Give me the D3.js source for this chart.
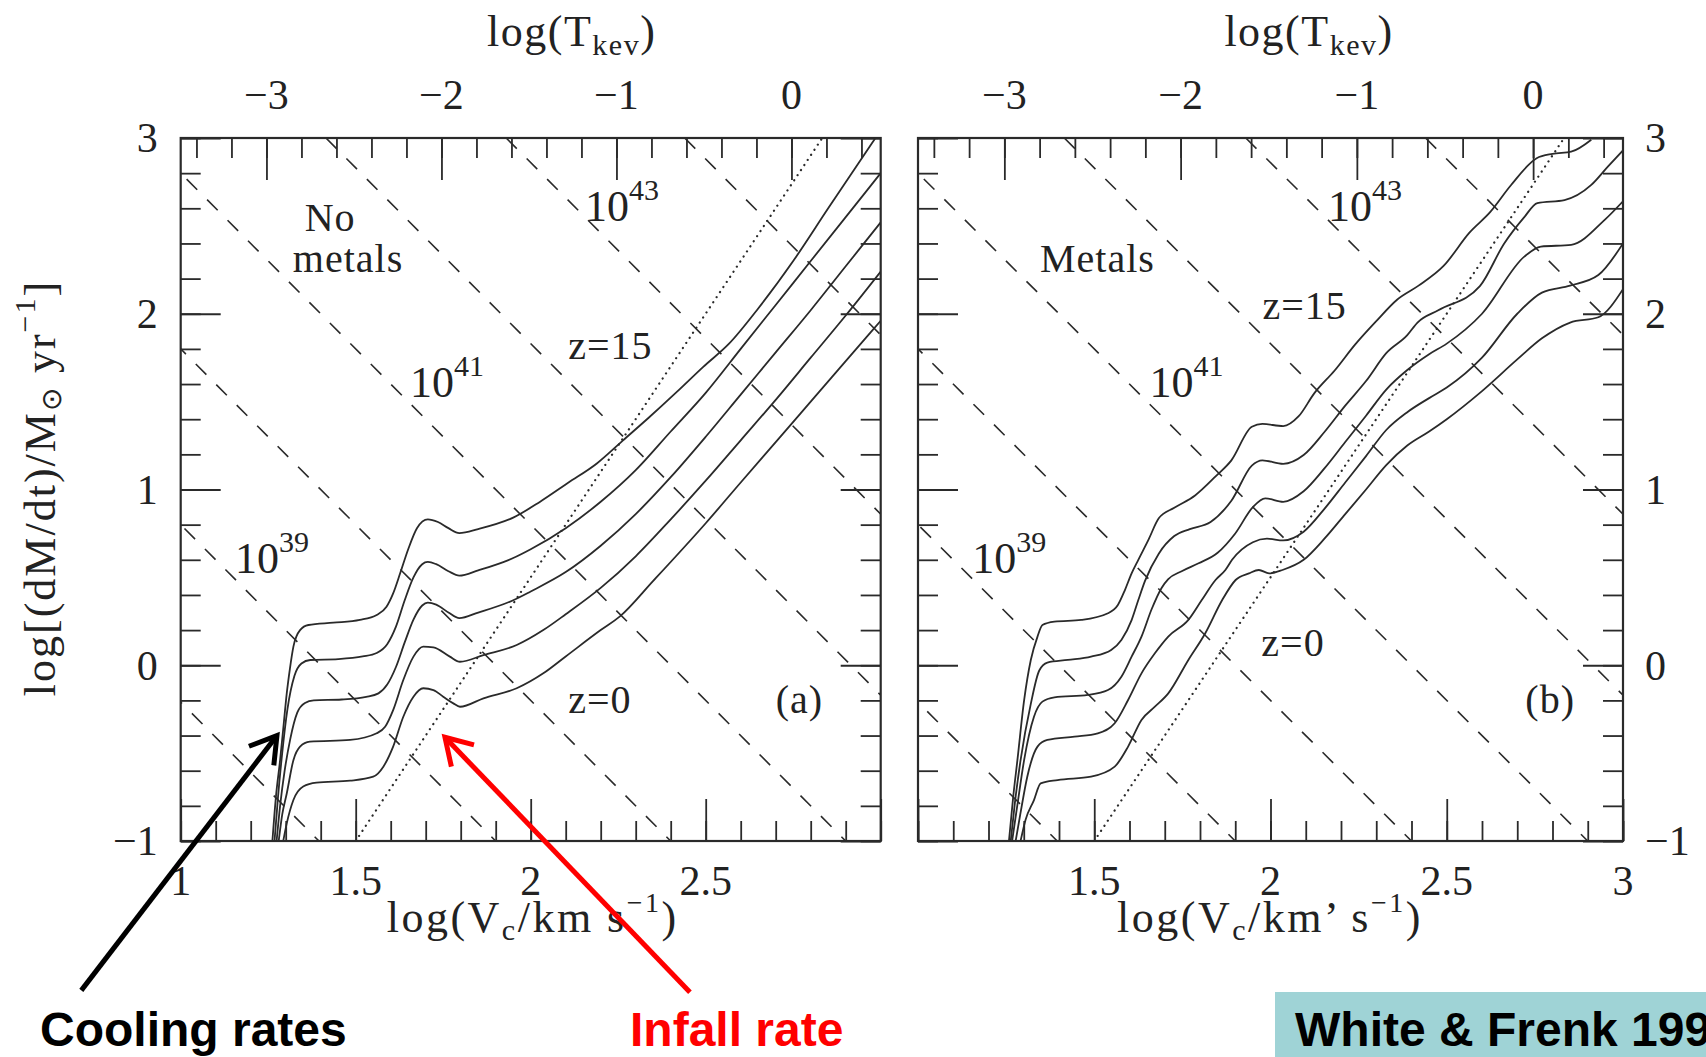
<!DOCTYPE html>
<html>
<head>
<meta charset="utf-8">
<style>
  body { margin: 0; background: #fff; }
  svg { display: block; }
  .serif { font-family: "Liberation Serif", "Times New Roman", serif; fill: #222; }
  .note { font-family: "Liberation Sans", Arial, sans-serif; font-weight: bold; }
</style>
</head>
<body>
<div id="chart"></div>
<script src="https://d3js.org/d3.v7.min.js"></script>
<script>
// ---- data ----
var xTickLabelsA = [1, 1.5, 2, 2.5];
var xTickLabelsB = [1.5, 2, 2.5, 3];
var yTickLabels = [-1, 0, 1, 2, 3];
var tTickLabels = [-3, -2, -1, 0];
var tkevOffset = -5.49;              // log T = 2 log Vc + offset

// dashed lines of constant luminosity, log(dM/dt) = c - 2 log Vc
var lumIntercepts = [1.79, 2.8, 3.8, 4.8, 5.83, 6.86, 7.88];
// dotted infall rate
var infallX = [1.5, 2.833];
var infallY = [-1, 3];

// (a) no metals, top curve (z=15) to bottom curve (z=0)
var noMetals1 = [[1.262,-1],[1.272,-0.75],[1.284,-0.54],[1.295,-0.32],[1.303,-0.16],[1.312,-0.02],[1.322,0.106],[1.341,0.2],[1.365,0.229],[1.436,0.242],[1.512,0.258],[1.56,0.286],[1.588,0.333],[1.607,0.409],[1.627,0.523],[1.65,0.66],[1.675,0.78],[1.706,0.83],[1.735,0.815],[1.765,0.78],[1.796,0.752],[1.85,0.775],[1.95,0.84],[2.025,0.928],[2.107,1.038],[2.189,1.148],[2.263,1.278],[2.337,1.408],[2.419,1.558],[2.493,1.698],[2.566,1.828],[2.65,2.03],[2.75,2.3],[2.85,2.6],[2.985,3.0]];
var noMetals2 = [[1.268,-1],[1.278,-0.75],[1.29,-0.5],[1.305,-0.25],[1.325,-0.06],[1.345,0.01],[1.37,0.03],[1.45,0.035],[1.52,0.05],[1.56,0.07],[1.59,0.12],[1.615,0.22],[1.64,0.37],[1.665,0.5],[1.69,0.575],[1.706,0.588],[1.73,0.575],[1.765,0.535],[1.796,0.51],[1.85,0.54],[1.95,0.61],[2.0,0.66],[2.1,0.78],[2.2,0.93],[2.3,1.11],[2.4,1.33],[2.5,1.55],[2.6,1.8],[2.7,2.05],[2.8,2.3],[2.9,2.55],[3.0,2.8]];
var noMetals3 = [[1.274,-1],[1.284,-0.8],[1.297,-0.6],[1.313,-0.42],[1.333,-0.27],[1.355,-0.215],[1.38,-0.2],[1.46,-0.195],[1.53,-0.18],[1.565,-0.16],[1.59,-0.11],[1.615,-0.01],[1.64,0.13],[1.665,0.26],[1.69,0.34],[1.706,0.356],[1.73,0.345],[1.765,0.3],[1.796,0.268],[1.85,0.3],[1.95,0.37],[2.0,0.42],[2.1,0.53],[2.2,0.68],[2.3,0.86],[2.4,1.07],[2.5,1.3],[2.6,1.54],[2.7,1.78],[2.8,2.02],[2.9,2.27],[3.0,2.52]];
var noMetals4 = [[1.28,-1],[1.29,-0.85],[1.303,-0.73],[1.322,-0.54],[1.341,-0.463],[1.369,-0.435],[1.484,-0.425],[1.56,-0.387],[1.584,-0.35],[1.607,-0.255],[1.636,-0.084],[1.665,0.049],[1.693,0.106],[1.722,0.102],[1.769,0.049],[1.798,0.02],[1.865,0.058],[1.96,0.115],[2.036,0.2],[2.1,0.29],[2.2,0.44],[2.3,0.62],[2.4,0.83],[2.5,1.05],[2.6,1.28],[2.7,1.51],[2.8,1.75],[2.9,1.99],[3.0,2.24]];
var noMetals5 = [[1.293,-1],[1.303,-0.9],[1.322,-0.767],[1.35,-0.69],[1.388,-0.668],[1.484,-0.657],[1.55,-0.634],[1.579,-0.577],[1.607,-0.463],[1.636,-0.293],[1.665,-0.179],[1.693,-0.131],[1.722,-0.141],[1.75,-0.179],[1.779,-0.217],[1.798,-0.236],[1.865,-0.188],[1.96,-0.131],[2.036,-0.046],[2.1,0.05],[2.2,0.2],[2.255,0.278],[2.35,0.48],[2.5,0.808],[2.6,1.04],[2.7,1.27],[2.8,1.5],[2.9,1.73],[3.0,1.96]];

// (b) metals
var metals1 = [[1.258,-1],[1.27,-0.75],[1.282,-0.54],[1.301,-0.2],[1.32,0.03],[1.339,0.163],[1.353,0.229],[1.387,0.248],[1.463,0.258],[1.539,0.296],[1.567,0.343],[1.587,0.428],[1.606,0.523],[1.625,0.6],[1.654,0.715],[1.683,0.836],[1.727,0.896],[1.786,0.966],[1.845,1.076],[1.889,1.166],[1.947,1.357],[1.977,1.373],[2.036,1.361],[2.08,1.417],[2.124,1.547],[2.182,1.677],[2.241,1.827],[2.3,1.958],[2.359,2.08],[2.42,2.16],[2.491,2.272],[2.565,2.463],[2.623,2.578],[2.682,2.731],[2.755,2.885],[2.8,2.91],[2.853,2.922],[2.91,2.99]];
var metals2 = [[1.263,-1],[1.275,-0.78],[1.291,-0.54],[1.32,-0.22],[1.344,-0.03],[1.367,0.015],[1.425,0.03],[1.491,0.049],[1.548,0.087],[1.577,0.144],[1.606,0.257],[1.625,0.371],[1.644,0.48],[1.683,0.635],[1.727,0.735],[1.771,0.775],[1.83,0.815],[1.889,0.936],[1.947,1.136],[1.977,1.166],[2.036,1.146],[2.094,1.196],[2.153,1.327],[2.212,1.477],[2.271,1.617],[2.329,1.777],[2.388,1.878],[2.417,1.95],[2.476,2.02],[2.594,2.157],[2.663,2.4],[2.72,2.55],[2.757,2.63],[2.834,2.647],[2.91,2.733],[2.957,2.837],[3.0,2.93]];
var metals3 = [[1.267,-1],[1.283,-0.78],[1.301,-0.54],[1.329,-0.293],[1.353,-0.207],[1.387,-0.183],[1.482,-0.169],[1.539,-0.141],[1.577,-0.065],[1.606,0.049],[1.634,0.163],[1.663,0.32],[1.691,0.44],[1.71,0.49],[1.748,0.535],[1.796,0.58],[1.85,0.64],[1.9,0.75],[1.95,0.9],[1.985,0.95],[2.036,0.93],[2.094,0.99],[2.153,1.12],[2.212,1.27],[2.271,1.42],[2.329,1.57],[2.388,1.68],[2.45,1.77],[2.5,1.83],[2.6,2.0],[2.72,2.325],[2.767,2.382],[2.853,2.392],[2.948,2.534],[3.0,2.64]];
var metals4 = [[1.277,-1],[1.29,-0.85],[1.31,-0.634],[1.339,-0.463],[1.367,-0.425],[1.444,-0.406],[1.51,-0.387],[1.558,-0.33],[1.596,-0.198],[1.634,-0.046],[1.672,0.068],[1.71,0.163],[1.767,0.258],[1.805,0.371],[1.844,0.485],[1.872,0.542],[1.891,0.6],[1.95,0.7],[1.99,0.72],[2.036,0.71],[2.094,0.76],[2.153,0.89],[2.212,1.04],[2.271,1.19],[2.329,1.34],[2.388,1.44],[2.45,1.52],[2.5,1.58],[2.6,1.75],[2.7,2.0],[2.77,2.12],[2.85,2.16],[2.93,2.22],[3.0,2.4]];
var metals5 = [[1.291,-1],[1.305,-0.88],[1.329,-0.767],[1.348,-0.672],[1.396,-0.653],[1.491,-0.634],[1.558,-0.577],[1.596,-0.463],[1.634,-0.311],[1.672,-0.236],[1.71,-0.16],[1.767,0.03],[1.815,0.182],[1.863,0.371],[1.901,0.485],[1.939,0.523],[1.967,0.542],[1.996,0.523],[2.034,0.542],[2.094,0.6],[2.153,0.72],[2.212,0.86],[2.271,1.0],[2.329,1.14],[2.388,1.25],[2.45,1.33],[2.5,1.4],[2.6,1.56],[2.7,1.74],[2.77,1.86],[2.85,1.95],[2.93,1.98],[3.0,2.14]];

// ---- layout ----
var width = 1706, height = 1057;
var plotTop = 138, plotBottom = 841;
var ink = "#2a2a2a";

var svg = d3.select("#chart").append("svg")
    .attr("width", width)
    .attr("height", height);

var panels = [
  { key: "a", left: 180.7, right: 880.7, curves: [noMetals1, noMetals2, noMetals3, noMetals4, noMetals5],
    xLabels: xTickLabelsA, ySide: "left", sep: " ",
    notes: [
      { x: 1.427, y: 2.47, text: "No", anchor: "middle" },
      { x: 1.478, y: 2.238, text: "metals", anchor: "middle" },
      { x: 2.107, y: 1.743, text: "z=15" },
      { x: 2.107, y: -0.272, text: "z=0" },
      { x: 2.70, y: -0.272, text: "(a)" }
    ],
    powers: [{ x: 2.155, y: 2.528, p: "43" }, { x: 1.655, y: 1.526, p: "41" }, { x: 1.155, y: 0.525, p: "39" }]
  },
  { key: "b", left: 918, right: 1623, curves: [metals1, metals2, metals3, metals4, metals5],
    xLabels: xTickLabelsB, ySide: "right", sep: "\u2019 ",
    notes: [
      { x: 1.346, y: 2.238, text: "Metals" },
      { x: 1.977, y: 1.970, text: "z=15" },
      { x: 1.974, y: 0.053, text: "z=0" },
      { x: 2.723, y: -0.272, text: "(b)" }
    ],
    powers: [{ x: 2.163, y: 2.528, p: "43" }, { x: 1.657, y: 1.526, p: "41" }, { x: 1.154, y: 0.525, p: "39" }]
  }
];

function fmt(d) { return d < 0 ? "\u2212" + Math.abs(d) : String(d); }

panels.forEach(function(p) {
  var x = d3.scaleLinear().domain([1, 3]).range([p.left, p.right]);
  var y = d3.scaleLinear().domain([-1, 3]).range([plotBottom, plotTop]);
  var t = d3.scaleLinear().domain([2 + tkevOffset, 6 + tkevOffset]).range([p.left, p.right]);
  var g = svg.append("g");

  g.append("clipPath").attr("id", "clip-" + p.key)
    .append("rect")
      .attr("x", p.left).attr("y", plotTop)
      .attr("width", p.right - p.left).attr("height", plotBottom - plotTop);

  var plot = g.append("g").attr("clip-path", "url(#clip-" + p.key + ")");

  // constant luminosity lines
  plot.selectAll(".lum")
    .data(lumIntercepts)
    .enter().append("line")
      .attr("class", "lum")
      .attr("x1", function(c) { return x((c - 3) / 2); })
      .attr("y1", y(3))
      .attr("x2", function(c) { return x((c + 1) / 2); })
      .attr("y2", y(-1))
      .attr("stroke", ink)
      .attr("stroke-width", 1.6)
      .attr("stroke-dasharray", "15,14");

  // infall rate
  plot.append("line")
      .attr("x1", x(infallX[0])).attr("y1", y(infallY[0]))
      .attr("x2", x(infallX[1])).attr("y2", y(infallY[1]))
      .attr("stroke", ink)
      .attr("stroke-width", 2.2)
      .attr("stroke-linecap", "round")
      .attr("stroke-dasharray", "0.1,6");

  // cooling rates
  var line = d3.line()
      .x(function(d) { return x(d[0]); })
      .y(function(d) { return y(d[1]); })
      .curve(d3.curveMonotoneX);

  plot.selectAll(".cool")
    .data(p.curves)
    .enter().append("path")
      .attr("class", "cool")
      .attr("d", line)
      .attr("fill", "none")
      .attr("stroke", ink)
      .attr("stroke-width", 1.8);

  // frame
  g.append("rect")
      .attr("x", p.left).attr("y", plotTop)
      .attr("width", p.right - p.left).attr("height", plotBottom - plotTop)
      .attr("fill", "none").attr("stroke", ink).attr("stroke-width", 2.2);

  // ticks, all pointing inwards
  function ticks(axis, tr, values, size) {
    g.append("g")
        .attr("transform", tr)
        .style("color", ink)
        .call(axis.tickValues(values).tickSize(size).tickSizeOuter(0).tickFormat(""))
        .call(function(s) { s.select(".domain").remove(); })
        .selectAll("line").attr("stroke-width", 1.8);
  }
  ticks(d3.axisBottom(x), "translate(0," + plotBottom + ")", x.ticks(20), -20);
  ticks(d3.axisBottom(x), "translate(0," + plotBottom + ")", x.ticks(4), -42);
  ticks(d3.axisTop(t), "translate(0," + plotTop + ")", t.ticks(20), -20);
  ticks(d3.axisTop(t), "translate(0," + plotTop + ")", t.ticks(4), -42);
  ticks(d3.axisLeft(y), "translate(" + p.left + ",0)", y.ticks(20), -20);
  ticks(d3.axisLeft(y), "translate(" + p.left + ",0)", y.ticks(4), -40);
  ticks(d3.axisRight(y), "translate(" + p.right + ",0)", y.ticks(20), -20);
  ticks(d3.axisRight(y), "translate(" + p.right + ",0)", y.ticks(4), -40);

  // tick labels
  g.selectAll(".xlab")
    .data(p.xLabels)
    .enter().append("text")
      .attr("class", "serif")
      .attr("x", function(d) { return x(d); })
      .attr("y", 895)
      .attr("text-anchor", "middle")
      .style("font-size", "42px")
      .text(fmt);

  g.selectAll(".tlab")
    .data(tTickLabels)
    .enter().append("text")
      .attr("class", "serif")
      .attr("x", function(d) { return t(d); })
      .attr("y", 109)
      .attr("text-anchor", "middle")
      .style("font-size", "42px")
      .text(fmt);

  g.selectAll(".ylab")
    .data(yTickLabels)
    .enter().append("text")
      .attr("class", "serif")
      .attr("x", p.ySide === "left" ? p.left - 23 : p.right + 22)
      .attr("y", function(d) { return y(d); })
      .attr("dy", "0.34em")
      .attr("text-anchor", p.ySide === "left" ? "end" : "start")
      .style("font-size", "42px")
      .text(fmt);

  // top title
  var tt = g.append("text")
      .attr("class", "serif")
      .attr("x", p.left + 391)
      .attr("y", 46)
      .attr("text-anchor", "middle")
      .style("font-size", "44px")
      .style("letter-spacing", "1.5px");
  tt.append("tspan").text("log(T");
  tt.append("tspan").attr("dy", 9).style("font-size", "30px").text("kev");
  tt.append("tspan").attr("dy", -9).text(")");

  // bottom title
  var bt = g.append("text")
      .attr("class", "serif")
      .attr("x", p.left + 352)
      .attr("y", 932)
      .attr("text-anchor", "middle")
      .style("font-size", "44px")
      .style("letter-spacing", "2.5px");
  bt.append("tspan").text("log(V");
  bt.append("tspan").attr("dy", 8).style("font-size", "30px").text("c");
  bt.append("tspan").attr("dy", -8).text("/km" + p.sep + " s");
  bt.append("tspan").attr("dy", -20).style("font-size", "28px").text("\u22121");
  bt.append("tspan").attr("dy", 20).text(")");

  // labels inside the plot
  g.selectAll(".note")
    .data(p.notes)
    .enter().append("text")
      .attr("class", "serif")
      .attr("x", function(d) { return x(d.x); })
      .attr("y", function(d) { return y(d.y); })
      .attr("text-anchor", function(d) { return d.anchor || "start"; })
      .style("font-size", "40px")
      .style("letter-spacing", "1px")
      .text(function(d) { return d.text; });

  var pw = g.selectAll(".pow")
    .data(p.powers)
    .enter().append("text")
      .attr("class", "serif")
      .attr("x", function(d) { return x(d.x); })
      .attr("y", function(d) { return y(d.y); })
      .style("font-size", "44px");
  pw.append("tspan").text("10");
  pw.append("tspan").attr("dy", -21).style("font-size", "30px").text(function(d) { return d.p; });
});

// y axis title
var yt = svg.append("text")
    .attr("class", "serif")
    .attr("transform", "translate(55,488) rotate(-90)")
    .attr("text-anchor", "middle")
    .style("font-size", "44px")
    .style("letter-spacing", "2px");
yt.append("tspan").text("log[(dM/dt)/M");
yt.append("tspan").attr("dy", 6).style("font-size", "28px").text("\u2299");
yt.append("tspan").attr("dy", -6).text("  yr");
yt.append("tspan").attr("dy", -20).style("font-size", "30px").text("\u22121");
yt.append("tspan").attr("dy", 20).text("]");

// annotations on the slide
var xa = d3.scaleLinear().domain([1, 3]).range([180.7, 880.7]);
var ya = d3.scaleLinear().domain([-1, 3]).range([plotBottom, plotTop]);
var arrows = [
  { from: [0.716, -1.85], to: [1.275, -0.40], color: "#000" },
  { from: [2.455, -1.86], to: [1.755, -0.41], color: "#ff0000" }
];
arrows.forEach(function(a) {
  var x1 = xa(a.from[0]), y1 = ya(a.from[1]), x2 = xa(a.to[0]), y2 = ya(a.to[1]);
  var ang = Math.atan2(y2 - y1, x2 - x1), len = 30, spread = 0.55;
  svg.append("line")
      .attr("x1", x1).attr("y1", y1).attr("x2", x2).attr("y2", y2)
      .attr("stroke", a.color).attr("stroke-width", 5);
  svg.append("path")
      .attr("d", "M" + (x2 - len * Math.cos(ang - spread)) + "," + (y2 - len * Math.sin(ang - spread)) +
                 "L" + x2 + "," + y2 +
                 "L" + (x2 - len * Math.cos(ang + spread)) + "," + (y2 - len * Math.sin(ang + spread)))
      .attr("fill", "none").attr("stroke", a.color).attr("stroke-width", 5)
      .attr("stroke-linejoin", "miter");
});

svg.append("text").attr("class", "note")
    .attr("x", 40).attr("y", 1046)
    .style("font-size", "48px").attr("fill", "#000")
    .text("Cooling rates");
svg.append("text").attr("class", "note")
    .attr("x", 630).attr("y", 1046)
    .style("font-size", "48px").attr("fill", "#ff0000")
    .text("Infall rate");

svg.append("rect")
    .attr("x", 1275).attr("y", 992)
    .attr("width", width - 1275).attr("height", height - 992)
    .attr("fill", "#9fd3d6");
svg.append("text").attr("class", "note")
    .attr("x", 1295).attr("y", 1046)
    .style("font-size", "48px").attr("fill", "#000")
    .text("White & Frenk 1991");
</script>
</body>
</html>
